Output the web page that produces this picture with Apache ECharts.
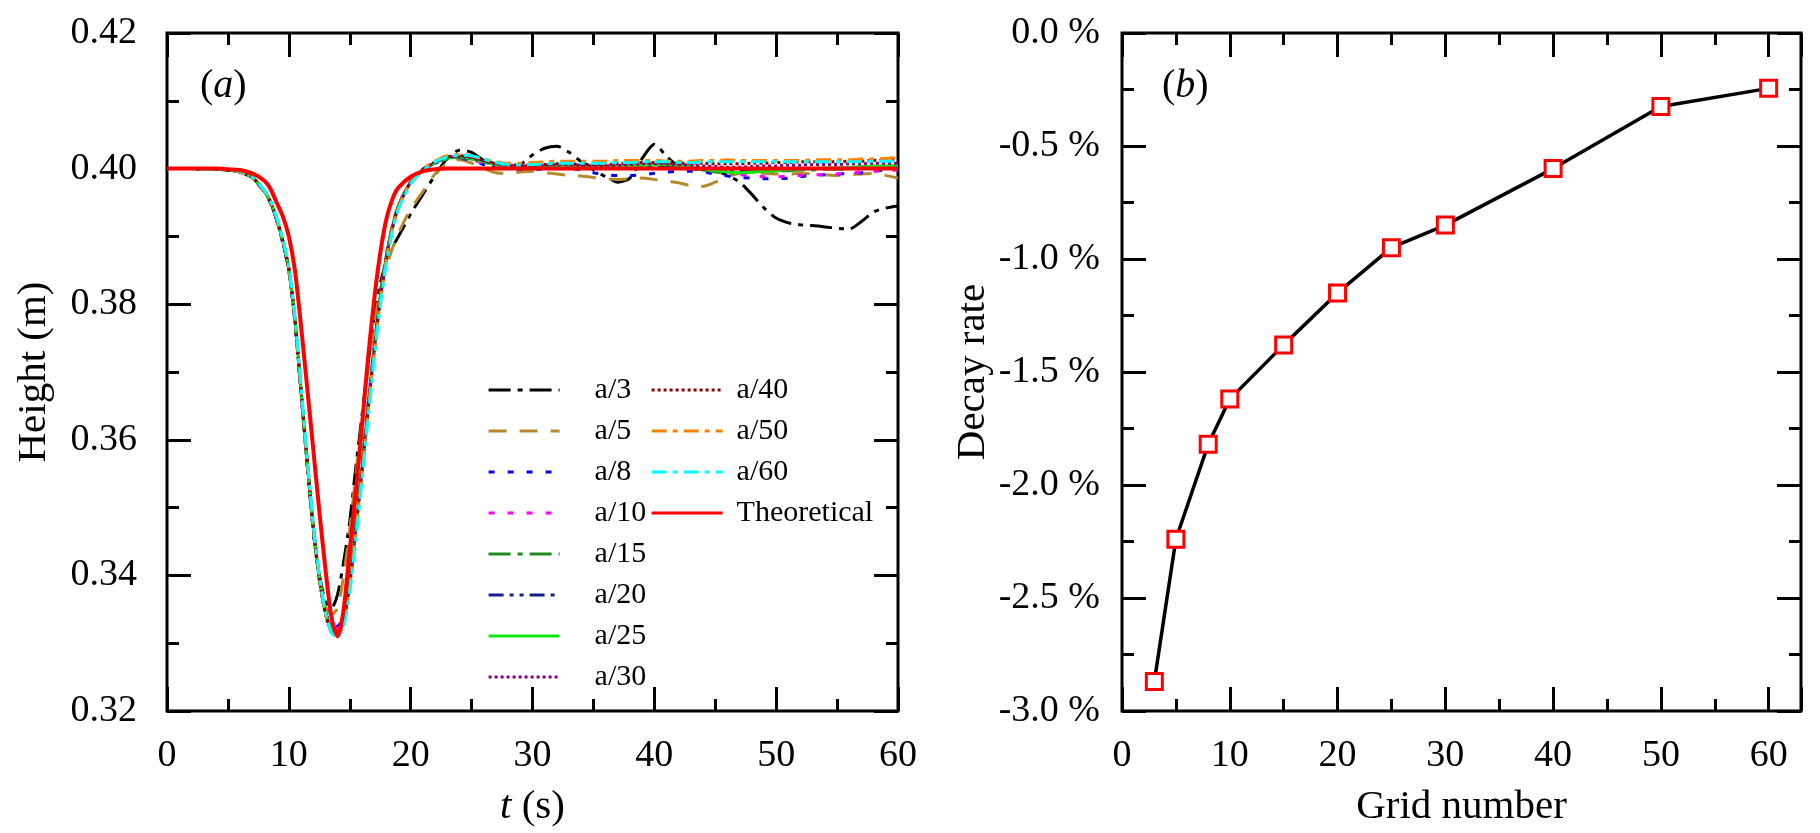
<!DOCTYPE html>
<html><head><meta charset="utf-8">
<script src="https://cdn.jsdelivr.net/npm/echarts@6/dist/echarts.min.js"></script>
<style>html,body{margin:0;padding:0;background:#fff}#c{width:1820px;height:833px}</style>
</head><body><div id="c"></div><script>
// ---------- DATA ----------
const T = [0,1,2,3,4,5,6,7,8,
  8.5,9,9.5,10,10.5,11,11.5,12,12.5,13,13.5,14,14.5,15,15.5,16,16.5,17,17.5,18,18.5,19,
  20,21,22,23,24,25,26,27,28,29,30,31,32,33,34,35,36,37,38,39,40,41,42,43,44,45,46,47,48,49,50,51,52,53,54,55,56,57,58,59,60];

const a3 = [0.4000,0.4000,0.4000,0.3999,0.3999,0.3998,0.3995,0.3987,0.3966,
  0.3950,0.3925,0.3893,0.3852,0.3778,0.3674,0.3570,0.3474,0.3402,0.3362,0.3352,0.3372,0.3420,0.3480,0.3560,0.3635,0.3712,0.3780,0.3830,0.3862,0.3884,0.3900,
  0.3933,0.3962,0.3990,0.4015,0.4027,0.4024,0.4012,0.4003,0.4001,0.4006,0.4020,0.4030,0.4033,0.4024,0.4010,0.3998,0.3988,0.3980,0.3986,0.4015,0.4036,0.4018,0.4003,0.3999,0.3999,0.3997,0.3990,0.3980,0.3962,0.3942,0.3927,0.3920,0.3917,0.3916,0.3914,0.3912,0.3911,0.3922,0.3936,0.3942,0.3945];

const a5 = [0.4000,0.4000,0.4000,0.3999,0.3999,0.3998,0.3995,0.3987,0.3966,
  0.3950,0.3925,0.3893,0.3851,0.3776,0.3672,0.3567,0.3471,0.3399,0.3355,0.3342,0.3352,0.3400,0.3468,0.3548,0.3628,0.3705,0.3770,0.3820,0.3855,0.3882,0.3905,
  0.3940,0.3966,0.3992,0.4008,0.4013,0.4008,0.4000,0.3994,0.3993,0.3995,0.3996,0.3994,0.3992,0.3990,0.3989,0.3987,0.3985,0.3984,0.3985,0.3986,0.3984,0.3982,0.3979,0.3975,0.3974,0.3980,0.3988,0.3993,0.3994,0.3993,0.3992,0.3992,0.3993,0.3992,0.3991,0.3990,0.3991,0.3992,0.3993,0.3990,0.3986];

const a8 = [0.4000,0.4000,0.4000,0.3999,0.3999,0.3998,0.3995,0.3986,0.3965,
  0.3949,0.3924,0.3891,0.3849,0.3774,0.3669,0.3564,0.3467,0.3395,0.3347,0.3326,0.3325,0.3345,0.3398,0.3477,0.3562,0.3652,0.3737,0.3812,0.3872,0.3916,0.3946,
  0.3981,0.3999,0.4009,0.4014,0.4015,0.4012,0.4006,0.4002,0.4000,0.3999,0.3999,0.3999,0.4000,0.4000,0.3998,0.3994,0.3991,0.3990,0.3990,0.3991,0.3993,0.3995,0.3996,0.3996,0.3995,0.3992,0.3989,0.3987,0.3986,0.3985,0.3985,0.3986,0.3988,0.3990,0.3991,0.3992,0.3993,0.3994,0.3996,0.3998,0.3999];

const a10 = [0.4000,0.4000,0.4000,0.3999,0.3999,0.3998,0.3995,0.3986,0.3965,
  0.3949,0.3924,0.3891,0.3849,0.3774,0.3669,0.3564,0.3467,0.3394,0.3346,0.3324,0.3322,0.3343,0.3397,0.3476,0.3561,0.3651,0.3736,0.3811,0.3871,0.3916,0.3946,
  0.3981,0.3999,0.4009,0.4015,0.4016,0.4013,0.4008,0.4004,0.4002,0.4001,0.4001,0.4002,0.4003,0.4003,0.4002,0.4001,0.4000,0.4000,0.4000,0.4001,0.4002,0.4002,0.4001,0.4000,0.3999,0.3998,0.3995,0.3991,0.3989,0.3988,0.3988,0.3989,0.3990,0.3991,0.3991,0.3992,0.3993,0.3995,0.3996,0.3997,0.3998];

const a15 = [0.4000,0.4000,0.4000,0.3999,0.3999,0.3998,0.3995,0.3987,0.3966,
  0.3950,0.3925,0.3892,0.3850,0.3775,0.3670,0.3565,0.3468,0.3395,0.3345,0.3322,0.3318,0.3340,0.3395,0.3475,0.3560,0.3650,0.3735,0.3810,0.3870,0.3915,0.3945,
  0.3980,0.3998,0.4008,0.4014,0.4016,0.4014,0.4010,0.4006,0.4004,0.4003,0.4002,0.4002,0.4003,0.4004,0.4004,0.4003,0.4002,0.4002,0.4002,0.4003,0.4004,0.4004,0.4003,0.4001,0.3998,0.3995,0.3994,0.3994,0.3995,0.3996,0.3996,0.3997,0.3998,0.3998,0.3999,0.3999,0.4000,0.4001,0.4002,0.4003,0.4004];

const a20 = [0.4000,0.4000,0.4000,0.3999,0.3999,0.3998,0.3995,0.3987,0.3966,
  0.3950,0.3925,0.3892,0.3850,0.3775,0.3671,0.3566,0.3469,0.3396,0.3346,0.3322,0.3317,0.3338,0.3393,0.3473,0.3558,0.3648,0.3733,0.3808,0.3869,0.3914,0.3945,
  0.3980,0.3998,0.4008,0.4015,0.4017,0.4015,0.4010,0.4006,0.4004,0.4003,0.4003,0.4003,0.4004,0.4004,0.4003,0.4002,0.4001,0.4001,0.4002,0.4003,0.4004,0.4004,0.4003,0.4002,0.4000,0.3998,0.3997,0.3996,0.3996,0.3997,0.3998,0.3998,0.3999,0.4000,0.4000,0.4001,0.4001,0.4002,0.4003,0.4003,0.4004];

const a25 = [0.4000,0.4000,0.4000,0.3999,0.3999,0.3998,0.3995,0.3987,0.3966,
  0.3950,0.3926,0.3893,0.3851,0.3776,0.3672,0.3567,0.3470,0.3396,0.3345,0.3320,0.3315,0.3336,0.3390,0.3470,0.3556,0.3646,0.3732,0.3808,0.3869,0.3914,0.3945,
  0.3980,0.3998,0.4009,0.4015,0.4017,0.4015,0.4010,0.4006,0.4004,0.4003,0.4003,0.4004,0.4005,0.4005,0.4004,0.4003,0.4003,0.4003,0.4004,0.4005,0.4006,0.4006,0.4005,0.4003,0.4000,0.3997,0.3995,0.3994,0.3995,0.3996,0.3997,0.3998,0.3999,0.4000,0.4001,0.4001,0.4002,0.4003,0.4004,0.4004,0.4005];

const a30 = [0.4000,0.4000,0.4000,0.3999,0.3999,0.3998,0.3995,0.3987,0.3967,
  0.3951,0.3926,0.3894,0.3852,0.3777,0.3673,0.3568,0.3470,0.3396,0.3344,0.3318,0.3314,0.3335,0.3388,0.3468,0.3555,0.3645,0.3731,0.3807,0.3868,0.3913,0.3944,
  0.3980,0.3998,0.4009,0.4016,0.4018,0.4016,0.4011,0.4007,0.4005,0.4004,0.4004,0.4005,0.4006,0.4006,0.4005,0.4004,0.4004,0.4005,0.4006,0.4007,0.4007,0.4007,0.4006,0.4005,0.4004,0.4003,0.4002,0.4002,0.4003,0.4004,0.4004,0.4005,0.4005,0.4006,0.4006,0.4006,0.4007,0.4007,0.4008,0.4008,0.4008];

const a40 = [0.4000,0.4000,0.4000,0.3999,0.3999,0.3998,0.3995,0.3987,0.3967,
  0.3951,0.3926,0.3894,0.3853,0.3778,0.3674,0.3569,0.3471,0.3397,0.3344,0.3317,0.3312,0.3333,0.3386,0.3466,0.3553,0.3643,0.3730,0.3806,0.3867,0.3912,0.3944,
  0.3980,0.3999,0.4010,0.4017,0.4019,0.4017,0.4012,0.4008,0.4006,0.4005,0.4005,0.4006,0.4007,0.4007,0.4006,0.4006,0.4006,0.4007,0.4008,0.4009,0.4009,0.4008,0.4008,0.4008,0.4008,0.4007,0.4007,0.4007,0.4008,0.4008,0.4009,0.4009,0.4010,0.4010,0.4010,0.4010,0.4011,0.4011,0.4012,0.4013,0.4014];

const a50 = [0.4000,0.4000,0.4000,0.3999,0.3999,0.3998,0.3995,0.3987,0.3967,
  0.3952,0.3927,0.3895,0.3854,0.3780,0.3676,0.3571,0.3473,0.3398,0.3344,0.3315,0.3310,0.3330,0.3383,0.3462,0.3549,0.3639,0.3726,0.3803,0.3865,0.3911,0.3943,
  0.3980,0.3999,0.4011,0.4019,0.4021,0.4019,0.4014,0.4010,0.4008,0.4008,0.4009,0.4010,0.4011,0.4011,0.4011,0.4011,0.4011,0.4012,0.4012,0.4012,0.4012,0.4011,0.4011,0.4011,0.4012,0.4012,0.4013,0.4012,0.4012,0.4012,0.4012,0.4012,0.4012,0.4013,0.4013,0.4013,0.4013,0.4014,0.4014,0.4015,0.4016];

const a60 = [0.4000,0.4000,0.4000,0.3999,0.3999,0.3998,0.3996,0.3988,0.3968,
  0.3953,0.3928,0.3897,0.3856,0.3783,0.3680,0.3575,0.3477,0.3402,0.3347,0.3316,0.3308,0.3325,0.3375,0.3453,0.3540,0.3630,0.3718,0.3797,0.3860,0.3907,0.3940,
  0.3977,0.3997,0.4010,0.4017,0.4020,0.4019,0.4014,0.4009,0.4006,0.4005,0.4006,0.4007,0.4008,0.4008,0.4008,0.4008,0.4008,0.4009,0.4009,0.4010,0.4010,0.4010,0.4009,0.4009,0.4010,0.4010,0.4010,0.4010,0.4010,0.4010,0.4010,0.4010,0.4010,0.4010,0.4010,0.4010,0.4010,0.4010,0.4011,0.4011,0.4011];

const theory = [0.4000,0.4000,0.4000,0.4000,0.4000,0.3999,0.3998,0.3993,0.3982,
  0.3970,0.3950,0.3930,0.3900,0.3850,0.3768,0.3678,0.3587,0.3495,0.3410,0.3338,0.3310,0.3350,0.3438,0.3524,0.3620,0.3720,0.3806,0.3875,0.3925,0.3955,0.3972,
  0.3988,0.3996,0.3999,0.4000,0.4000,0.4000,0.4000,0.4000,0.4000,0.4000,0.4000,0.4000,0.4000,0.4000,0.4000,0.4000,0.4000,0.4000,0.4000,0.4000,0.4000,0.4000,0.4000,0.4000,0.4000,0.4000,0.4000,0.4000,0.4000,0.4000,0.4000,0.4000,0.4000,0.4000,0.4000,0.4000,0.4000,0.4000,0.4000,0.4000,0.4000];

const gridNumber = [3,5,8,10,15,20,25,30,40,50,60];
const decayRate  = [-2.87,-2.24,-1.82,-1.62,-1.38,-1.15,-0.95,-0.85,-0.60,-0.325,-0.245];

// ---------- CHART ----------
const FONT = 'Liberation Serif';
const chart = echarts.init(document.getElementById('c'));
const pairs = v => T.map((t, i) => [t, v[i]]);

const lbl = {fontFamily:FONT, fontSize:38, color:'#000'};
const ttl = {fontFamily:FONT, fontSize:41, color:'#000'};
const SPL = {show:true, lineStyle:{color:'#000', width:3, type:'solid'}};

const PA = {left:167, top:33, width:731, height:678, x:[0,60], xi:[10,5], y:[0.32,0.42], yi:[0.02,0.01]};
const PB = {left:1122, top:33, width:679, height:678, x:[0,63], xi:[10,5], y:[-3,0], yi:[0.5,0.25]};
const MAJ = 24, MIN = 12;

const grids = [], xAxes = [], yAxes = [];

function mainPanel(P, xExtra, yExtra){
  const gi = grids.length;
  grids.push({left:P.left, top:P.top, width:P.width, height:P.height, containLabel:false,
    show:true, borderColor:'#000', borderWidth:3, backgroundColor:'transparent'});
  xAxes.push(Object.assign({type:'value', gridIndex:gi, position:'bottom', min:P.x[0], max:P.x[1], interval:P.xi[0],
    splitLine:{show:false}, axisLine:{show:false}, axisTick:{show:false}, minorTick:{show:false}}, xExtra));
  yAxes.push(Object.assign({type:'value', gridIndex:gi, position:'left', min:P.y[0], max:P.y[1], interval:P.yi[0],
    splitLine:{show:false}, axisLine:{show:false}, axisTick:{show:false}, minorTick:{show:false}}, yExtra));
  return gi;
}
// narrow strip grid whose split lines act as inward tick marks
function tickStrip(rect, dim, P, interval){
  const gi = grids.length;
  grids.push(Object.assign({containLabel:false, show:false}, rect));
  const hidden = {type:'value', gridIndex:gi, min:0, max:1, show:false};
  if (dim === 'x') {
    xAxes.push({type:'value', gridIndex:gi, min:P.x[0], max:P.x[1], interval:interval,
      axisLine:{show:false}, axisTick:{show:false}, axisLabel:{show:false}, splitLine:SPL});
    yAxes.push(hidden);
  } else {
    yAxes.push({type:'value', gridIndex:gi, min:P.y[0], max:P.y[1], interval:interval,
      axisLine:{show:false}, axisTick:{show:false}, axisLabel:{show:false}, splitLine:SPL});
    xAxes.push(hidden);
  }
}
function addTicks(P){
  [[MAJ,0],[MIN,1]].forEach(([len, k]) => {
    tickStrip({left:P.left, top:P.top + P.height - len, width:P.width, height:len}, 'x', P, P.xi[k]);
    tickStrip({left:P.left, top:P.top, width:P.width, height:len}, 'x', P, P.xi[k]);
    tickStrip({left:P.left, top:P.top, width:len, height:P.height}, 'y', P, P.yi[k]);
    tickStrip({left:P.left + P.width - len, top:P.top, width:len, height:P.height}, 'y', P, P.yi[k]);
  });
}

const gA = mainPanel(PA,
  {axisLabel:Object.assign({margin:26}, lbl),
   name:'{i|t} (s)', nameLocation:'middle', nameGap:76,
   nameTextStyle:Object.assign({}, ttl, {rich:{i:{fontFamily:FONT, fontSize:41, fontStyle:'italic', color:'#000'}}})},
  {axisLabel:Object.assign({margin:30, formatter:v => v.toFixed(2)}, lbl),
   name:'Height (m)', nameLocation:'middle', nameGap:112, nameTextStyle:ttl});
const gB = mainPanel(PB,
  {axisLabel:Object.assign({margin:26, formatter:v => (v % 10 === 0 ? String(v) : '')}, lbl),
   name:'Grid number', nameLocation:'middle', nameGap:76, nameTextStyle:ttl},
  {axisLabel:Object.assign({margin:22, formatter:v => (Math.abs(v) < 1e-9 ? 0 : v).toFixed(1) + ' %'}, lbl),
   name:'Decay rate', nameLocation:'middle', nameGap:128, nameTextStyle:ttl});
addTicks(PA);
addTicks(PB);

const specs = [
  {name:'a/3',  data:a3,  color:'#000000', type:[22,7,5,7], w:3},
  {name:'a/5',  data:a5,  color:'#B38A2E', type:[18,13], w:3},
  {name:'a/8',  data:a8,  color:'#0000FF', type:[6,13], w:3},
  {name:'a/10', data:a10, color:'#FF00FF', type:[6,13], w:3},
  {name:'a/15', data:a15, color:'#1E8C1E', type:[22,7,5,7], w:3},
  {name:'a/20', data:a20, color:'#141E8C', type:[15,6,4,6,4,6], w:3},
  {name:'a/25', data:a25, color:'#10E810', type:'solid', w:3},
  {name:'a/30', data:a30, color:'#800080', type:[3,3], w:3},
  {name:'a/40', data:a40, color:'#8B0000', type:[3,3], w:3},
  {name:'a/50', data:a50, color:'#FF8000', type:[15,6,5,6], w:3},
  {name:'a/60', data:a60, color:'#00FFFF', type:[15,6,5,6], w:3},
  {name:'Theoretical', data:theory, color:'#FF0000', type:'solid', w:4}
];

const series = specs.map(s => ({
  name:s.name, type:'line', xAxisIndex:gA, yAxisIndex:gA, data:pairs(s.data),
  symbol:'none', showSymbol:false, smooth:0.25, animation:false,
  lineStyle:{color:s.color, width:s.w, type:s.type}, itemStyle:{color:s.color}
}));
series.push({
  type:'line', xAxisIndex:gB, yAxisIndex:gB,
  data:gridNumber.map((g,i)=>[g, decayRate[i]]),
  symbol:'rect', symbolSize:16, showSymbol:true, animation:false, z:5,
  lineStyle:{color:'#000', width:3.5},
  itemStyle:{color:'#fff', borderColor:'#FF0000', borderWidth:3}
});

const legendText = {fontFamily:FONT, fontSize:30, color:'#000', lineHeight:30};
const option = {
  backgroundColor:'#fff',
  animation:false,
  grid:grids,
  xAxis:xAxes,
  yAxis:yAxes,
  legend:[
    {data:['a/3','a/5','a/8','a/10','a/15','a/20','a/25','a/30'], orient:'vertical',
     left:482, top:370, itemWidth:71, itemHeight:14, itemGap:11,
     itemStyle:{opacity:0}, lineStyle:{width:3.2},
     textStyle:Object.assign({padding:[0,0,0,30]}, legendText), selectedMode:false},
    {data:['a/40','a/50','a/60','Theoretical'], orient:'vertical',
     left:645, top:370, itemWidth:71, itemHeight:14, itemGap:11,
     itemStyle:{opacity:0}, lineStyle:{width:3.2},
     textStyle:Object.assign({padding:[0,0,0,9]}, legendText), selectedMode:false}
  ],
  graphic:[
    {type:'text', left:200, top:66, style:{text:'{p|(}{i|a}{p|)}', rich:{
      p:{fontFamily:FONT, fontSize:40, fill:'#000'}, i:{fontFamily:FONT, fontSize:40, fontStyle:'italic', fill:'#000'}}}},
    {type:'text', left:1162, top:66, style:{text:'{p|(}{i|b}{p|)}', rich:{
      p:{fontFamily:FONT, fontSize:40, fill:'#000'}, i:{fontFamily:FONT, fontSize:40, fontStyle:'italic', fill:'#000'}}}}
  ],
  series:series
};
chart.setOption(option);
</script></body></html>
